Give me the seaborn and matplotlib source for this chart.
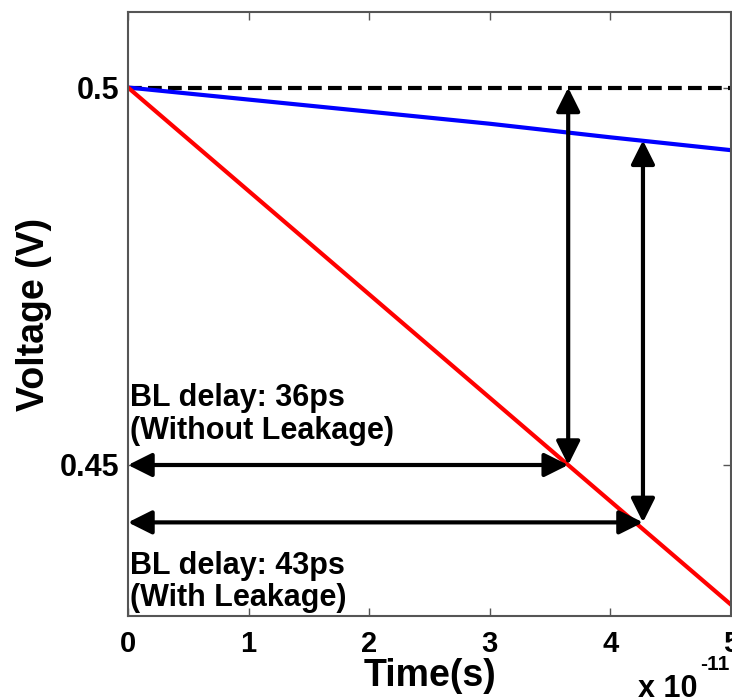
import matplotlib
matplotlib.use("Agg")
import matplotlib.pyplot as plt
import seaborn as sns
import numpy as np
import pandas as pd

# ---- data ----
time_s = [0.0, 1e-11, 2e-11, 3e-11, 4e-11, 5e-11]
v_without_leak = [0.5, 0.4863, 0.4726, 0.4589, 0.4452, 0.4315]   # red
v_with_leak = [0.5, 0.4984, 0.4968, 0.4952, 0.4934, 0.4917]      # blue
v_precharge = [0.5, 0.5, 0.5, 0.5, 0.5, 0.5]                     # dashed

t_sense_no_leak = 3.65e-11
t_sense_leak = 4.27e-11
v_sense_no_leak = 0.45
v_sense_leak = 0.4424
v_blue_at_leak = 0.4930
v_top = 0.5

x_ticks = [0, 1e-11, 2e-11, 3e-11, 4e-11, 5e-11]
x_ticklabels = ["0", "1", "2", "3", "4", "5"]
y_ticks = [0.45, 0.5]
y_ticklabels = ["0.45", "0.5"]
label_no_leak = "BL delay: 36ps\n(Without Leakage)"
label_leak = "BL delay: 43ps\n(With Leakage)"

# ---- style ----
sns.set_style("white")
plt.rcParams["font.family"] = ["Liberation Sans", "DejaVu Sans"]
plt.rcParams["font.weight"] = "bold"
plt.rcParams["text.color"] = "black"
plt.rcParams["axes.labelcolor"] = "black"
plt.rcParams["xtick.color"] = "#555555"
plt.rcParams["ytick.color"] = "#555555"
plt.rcParams["xtick.labelcolor"] = "black"
plt.rcParams["ytick.labelcolor"] = "black"

fig = plt.figure(figsize=(7.32, 6.99), dpi=100)
ax = fig.add_axes([128 / 732, 83 / 699, 603 / 732, 604 / 699])

df = pd.DataFrame({"t": time_s, "red": v_without_leak, "blue": v_with_leak, "pre": v_precharge})
sns.lineplot(data=df, x="t", y="pre", ax=ax, color="black", lw=3, linestyle=(0, (3.3, 1.5)))
sns.lineplot(data=df, x="t", y="blue", ax=ax, color="#0000ff", lw=3)
sns.lineplot(data=df, x="t", y="red", ax=ax, color="#ff0000", lw=3)

ax.set_xlim(0, 5e-11)
ax.set_ylim(0.43, 0.51)
ax.set_xticks(x_ticks)
ax.set_xticklabels(x_ticklabels, fontsize=21, fontweight="bold")
ax.set_yticks(y_ticks)
ax.set_yticklabels(y_ticklabels, fontsize=22, fontweight="bold")
ax.tick_params(direction="in", length=6, width=1, top=True, right=True,
               bottom=True, left=True)
ax.tick_params(axis="x", pad=10)
ax.tick_params(axis="y", pad=6)
for s in ax.spines.values():
    s.set_color("#555555")
    s.set_linewidth(1.5)

ax.set_xlabel("Time(s)", fontsize=27, fontweight="bold", labelpad=0)
ax.set_ylabel("Voltage (V)", fontsize=27, fontweight="bold", labelpad=6)

arrow_kw = dict(arrowstyle="<|-|>,head_length=0.8,head_width=0.4", mutation_scale=18,
                color="black", lw=3, shrinkA=0, shrinkB=0)
ax.annotate("", xy=(t_sense_no_leak, v_top), xytext=(t_sense_no_leak, v_sense_no_leak),
            arrowprops=arrow_kw)
ax.annotate("", xy=(t_sense_leak, v_blue_at_leak), xytext=(t_sense_leak, v_sense_leak),
            arrowprops=arrow_kw)
ax.annotate("", xy=(0, v_sense_no_leak), xytext=(t_sense_no_leak, v_sense_no_leak),
            arrowprops=arrow_kw)
ax.annotate("", xy=(0, v_sense_leak), xytext=(t_sense_leak, v_sense_leak),
            arrowprops=arrow_kw)

ax.text(0.003, 0.385, label_no_leak, transform=ax.transAxes, fontsize=22, fontweight="bold",
        va="top", ha="left", linespacing=1.1)
ax.text(0.003, 0.108, label_leak, transform=ax.transAxes, fontsize=22, fontweight="bold",
        va="top", ha="left", linespacing=1.1)

fig.text(638 / 732, 2 / 699, "x 10", fontsize=22, fontweight="bold", ha="left", va="baseline")
fig.text(700 / 732, 29 / 699, "-11", fontsize=15, fontweight="bold", ha="left", va="baseline")

fig.savefig("out.png", dpi=100)
